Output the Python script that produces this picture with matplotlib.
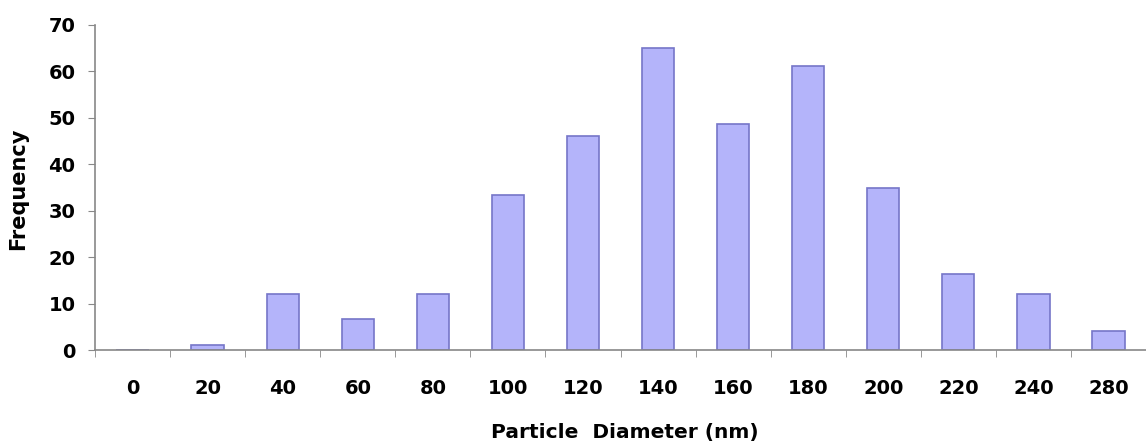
import numpy as np
import matplotlib
matplotlib.use("Agg")
import matplotlib.pyplot as plt

# particle size histogram
diameters = ["0", "20", "40", "60", "80", "100", "120", "140", "160", "180", "200", "220", "240", "280"]
frequency = [0, 1, 12, 6.7, 12, 33.3, 46, 65, 48.7, 61.2, 34.8, 16.3, 12, 4.1]
y_ticks = [0, 10, 20, 30, 40, 50, 60, 70]

plt.rcParams["font.family"] = ["DejaVu Sans"]

fig = plt.figure(figsize=(11.46, 4.44), dpi=100)
ax = fig.add_axes([0.0829, 0.2117, 0.9171, 0.732])

x = np.arange(len(diameters))
ax.bar(x, frequency, width=0.43, color="#b4b4fa", edgecolor="#7676c8", linewidth=1.2)

ax.set_xlim(-0.5, 13.37)
ax.set_ylim(0, 70)
ax.set_yticks(y_ticks)
ax.set_yticklabels([str(v) for v in y_ticks], fontsize=14, fontweight="bold")

# labels sit under the bars, ticks mark the bin boundaries
ax.set_xticks(x)
ax.set_xticklabels(diameters, fontsize=14, fontweight="bold")
ax.set_xticks(np.arange(-0.5, len(diameters), 1.0), minor=True)
ax.tick_params(axis="x", which="major", length=0, pad=21)
ax.tick_params(axis="x", which="minor", length=5, direction="out", color="#888888")
ax.tick_params(axis="y", length=5, direction="out", color="#888888", pad=9)

for side in ("top", "right"):
    ax.spines[side].set_visible(False)
for side in ("left", "bottom"):
    ax.spines[side].set_color("#888888")
    ax.spines[side].set_linewidth(1.2)

fig.text(0.545, 0.027, "Particle  Diameter (nm)", fontsize=14.5, fontweight="bold", ha="center", va="center")
fig.text(0.016, 0.575, "Frequency", fontsize=15, fontweight="bold", rotation=90, ha="center", va="center")

fig.savefig("out.png", dpi=100)
